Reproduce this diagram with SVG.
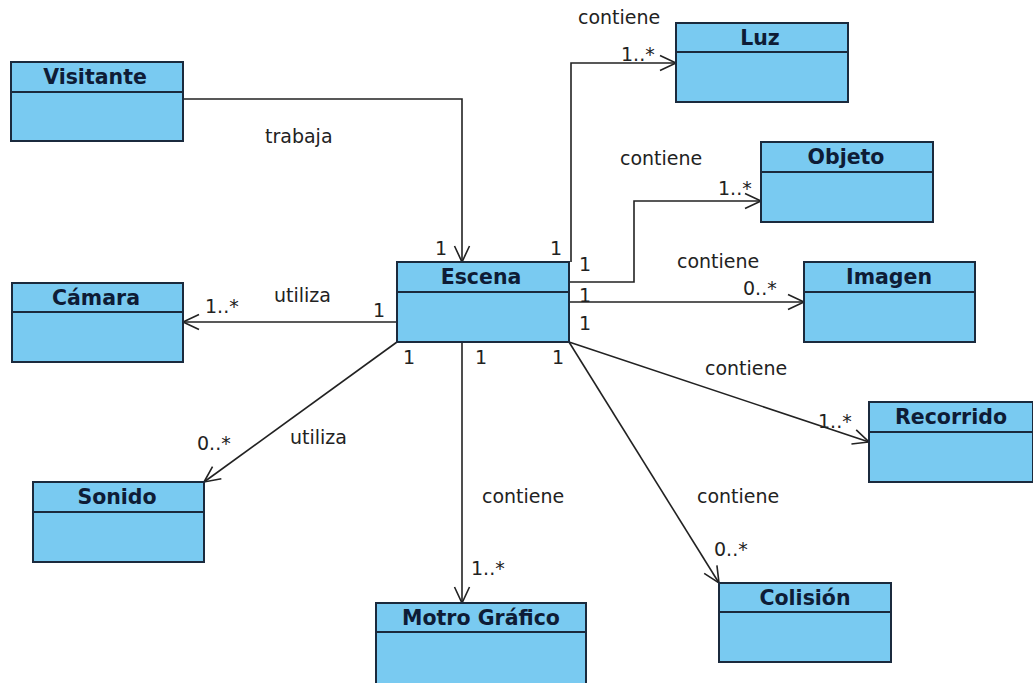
<svg xmlns="http://www.w3.org/2000/svg" width="1033" height="683" viewBox="0 0 1033 683">
  <style>
    .box { fill: #79caf1; stroke: #1b2a3d; stroke-width: 2; }
    .sep { stroke: #1b2a3d; stroke-width: 2; }
    .name { font-family: "DejaVu Sans", sans-serif; font-weight: bold; font-size: 20.5px; fill: #0e1c36; text-anchor: middle; }
    .lbl { font-family: "DejaVu Sans", sans-serif; font-size: 19px; fill: #222222; }
    .conn { fill: none; stroke: #222222; stroke-width: 1.6; }
  </style>
  <defs>
    <marker id="open" markerUnits="userSpaceOnUse" markerWidth="24" markerHeight="20" viewBox="-20 -10 24 20" refX="0" refY="0" orient="auto">
      <path d="M-16,-7.5 L0,0 L-16,7.5" fill="none" stroke="#222222" stroke-width="1.6"/>
    </marker>
  </defs>
  <rect width="1033" height="683" fill="#ffffff"/>

  <g id="connectors">
    <path class="conn" d="M183,99 H462 V262" marker-end="url(#open)"/>
    <path class="conn" d="M571,262 V63 H676" marker-end="url(#open)"/>
    <path class="conn" d="M569,282 H634 V201 H761" marker-end="url(#open)"/>
    <path class="conn" d="M569,302 H804" marker-end="url(#open)"/>
    <path class="conn" d="M397,322 H183" marker-end="url(#open)"/>
    <path class="conn" d="M397,342 L204,482" marker-end="url(#open)"/>
    <path class="conn" d="M462,342 V603" marker-end="url(#open)"/>
    <path class="conn" d="M569,342 L719,583" marker-end="url(#open)"/>
    <path class="conn" d="M569,342 L869,442" marker-end="url(#open)"/>

    <text class="lbl" x="265" y="143">trabaja</text>
    <text class="lbl" x="435" y="255">1</text>
    <text class="lbl" x="550" y="255">1</text>
    <text class="lbl" x="578" y="24">contiene</text>
    <text class="lbl" x="621" y="61">1..*</text>
    <text class="lbl" x="579" y="271">1</text>
    <text class="lbl" x="620" y="165">contiene</text>
    <text class="lbl" x="718" y="195">1..*</text>
    <text class="lbl" x="579" y="302">1</text>
    <text class="lbl" x="677" y="268">contiene</text>
    <text class="lbl" x="743" y="295">0..*</text>
    <text class="lbl" x="579" y="330">1</text>
    <text class="lbl" x="705" y="375">contiene</text>
    <text class="lbl" x="818" y="428">1..*</text>
    <text class="lbl" x="373" y="317">1</text>
    <text class="lbl" x="274" y="302">utiliza</text>
    <text class="lbl" x="205" y="313">1..*</text>
    <text class="lbl" x="403" y="364">1</text>
    <text class="lbl" x="290" y="444">utiliza</text>
    <text class="lbl" x="197" y="450">0..*</text>
    <text class="lbl" x="475" y="364">1</text>
    <text class="lbl" x="482" y="503">contiene</text>
    <text class="lbl" x="471" y="575">1..*</text>
    <text class="lbl" x="552" y="364">1</text>
    <text class="lbl" x="697" y="503">contiene</text>
    <text class="lbl" x="714" y="556">0..*</text>
  </g>

  <g id="Visitante">
    <rect class="box" x="11" y="62" width="172" height="79"/>
    <line class="sep" x1="11" y1="92" x2="183" y2="92"/>
    <text class="name" x="95" y="84">Visitante</text>
  </g>
  <g id="Escena">
    <rect class="box" x="397" y="262" width="172" height="80"/>
    <line class="sep" x1="397" y1="292" x2="569" y2="292"/>
    <text class="name" x="481" y="284">Escena</text>
  </g>
  <g id="Luz">
    <rect class="box" x="676" y="23" width="172" height="79"/>
    <line class="sep" x1="676" y1="52" x2="848" y2="52"/>
    <text class="name" x="760" y="45">Luz</text>
  </g>
  <g id="Objeto">
    <rect class="box" x="761" y="142" width="172" height="80"/>
    <line class="sep" x1="761" y1="172" x2="933" y2="172"/>
    <text class="name" x="846" y="164">Objeto</text>
  </g>
  <g id="Imagen">
    <rect class="box" x="804" y="262" width="171" height="80"/>
    <line class="sep" x1="804" y1="292" x2="975" y2="292"/>
    <text class="name" x="889" y="284">Imagen</text>
  </g>
  <g id="Recorrido">
    <rect class="box" x="869" y="402" width="164" height="80"/>
    <line class="sep" x1="869" y1="432" x2="1033" y2="432"/>
    <text class="name" x="951" y="424">Recorrido</text>
  </g>
  <g id="Colision">
    <rect class="box" x="719" y="583" width="172" height="79"/>
    <line class="sep" x1="719" y1="612" x2="891" y2="612"/>
    <text class="name" x="805" y="605">Colisión</text>
  </g>
  <g id="MotroGrafico">
    <rect class="box" x="376" y="603" width="210" height="82"/>
    <line class="sep" x1="376" y1="632" x2="586" y2="632"/>
    <text class="name" x="481" y="625">Motro Gráfico</text>
  </g>
  <g id="Sonido">
    <rect class="box" x="33" y="482" width="171" height="80"/>
    <line class="sep" x1="33" y1="512" x2="204" y2="512"/>
    <text class="name" x="117" y="504">Sonido</text>
  </g>
  <g id="Camara">
    <rect class="box" x="12" y="283" width="171" height="79"/>
    <line class="sep" x1="12" y1="312" x2="183" y2="312"/>
    <text class="name" x="96" y="305">Cámara</text>
  </g>
</svg>
